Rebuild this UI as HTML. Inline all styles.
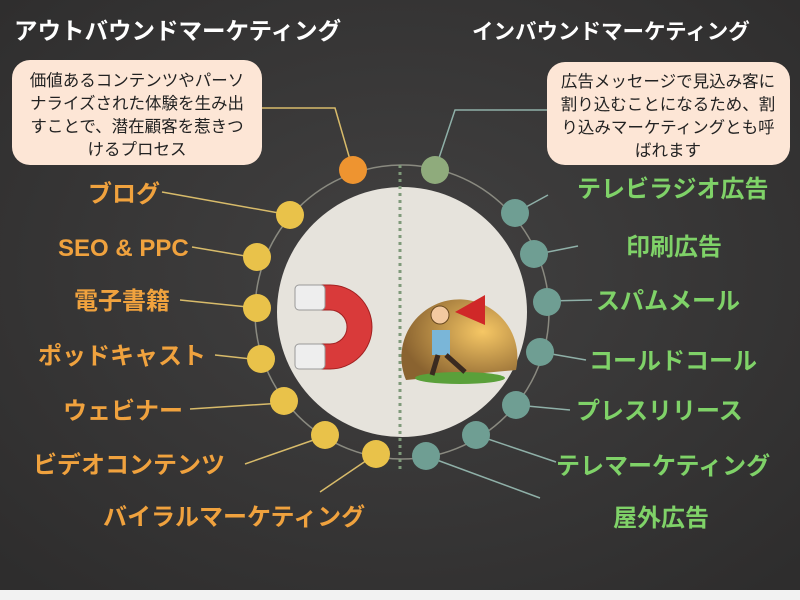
<!DOCTYPE html><html><head><meta charset="utf-8"><style>
body{margin:0;width:800px;height:600px;overflow:hidden;background:#3b3a3a;font-family:"Liberation Sans","Noto Sans CJK JP",sans-serif}
</style></head><body>
<svg width="800" height="600" xmlns="http://www.w3.org/2000/svg" style="position:absolute;left:0;top:0">
<defs><radialGradient id="bg" cx="50%" cy="45%" r="70%"><stop offset="0" stop-color="#424141"/><stop offset="1" stop-color="#2e2d2d"/></radialGradient>
<radialGradient id="sun" cx="70%" cy="40%" r="70%"><stop offset="0" stop-color="#f6c765"/><stop offset="1" stop-color="#8a6330"/></radialGradient></defs>
<rect width="800" height="600" fill="url(#bg)"/>
<rect y="590" width="800" height="10" fill="#f2f2f2"/>
<g font-weight="bold" fill="#fff"><text x="14" y="39" font-size="23.5">アウトバウンドマーケティング</text><text x="472" y="39" font-size="21.5">インバウンドマーケティング</text></g>
<circle cx="402" cy="312" r="147" fill="none" stroke="#8a8a80" stroke-width="1.5"/>
<circle cx="402" cy="312" r="125" fill="#e6e3dc"/>
<line x1="400" y1="165" x2="400" y2="470" stroke="#7f9a7a" stroke-width="3" stroke-dasharray="3,4"/>
<path d="M300 285 H330 A42 42 0 0 1 330 369 H300 V344 H330 A17 17 0 0 0 330 310 H300 Z" fill="#d93a3a" stroke="#a02020"/>
<rect x="295" y="285" width="30" height="25" rx="4" fill="#eee" stroke="#999"/>
<rect x="295" y="344" width="30" height="25" rx="4" fill="#eee" stroke="#999"/>
<path d="M406 380 A58 58 0 1 1 516 370 Z" fill="url(#sun)"/>
<ellipse cx="460" cy="378" rx="45" ry="6" fill="#5aa03a"/>
<circle cx="440" cy="315" r="9" fill="#f3c9a0" stroke="#6a4a20"/>
<path d="M432 330 L450 330 L450 355 L432 355 Z" fill="#7ab6d8"/>
<path d="M438 355 L432 375 M446 355 L465 372" stroke="#3a2a20" stroke-width="5"/>
<path d="M455 312 L485 295 L485 325 Z" fill="#d02828"/>
<g stroke-width="1.5">
<path d="M290 215 L162 192 M257 258 L192 247 M257 308 L180 300 M261 360 L215 355 M283 403 L190 409 M325 436 L245 464 M376 454 L320 492 M353 170 L335 108 L262 108" stroke="#d8bb6a" fill="none"/>
<path d="M435 170 L455 110 L547 110 M515 213 L548 195 M533 255 L578 246 M547 301 L592 300 M540 352 L586 360 M516 405 L570 410 M476 435 L556 462 M426 456 L540 498" stroke="#8fb0a8" fill="none"/>
</g>
<circle cx="353" cy="170" r="14" fill="#ee9430"/>
<circle cx="435" cy="170" r="14" fill="#8fab7c"/>
<g fill="#e9c24a"><circle cx="290" cy="215" r="14"/><circle cx="257" cy="257" r="14"/><circle cx="257" cy="308" r="14"/><circle cx="261" cy="359" r="14"/><circle cx="284" cy="401" r="14"/><circle cx="325" cy="435" r="14"/><circle cx="376" cy="454" r="14"/></g>
<g fill="#6f9e93"><circle cx="515" cy="213" r="14"/><circle cx="534" cy="254" r="14"/><circle cx="547" cy="302" r="14"/><circle cx="540" cy="352" r="14"/><circle cx="516" cy="405" r="14"/><circle cx="476" cy="435" r="14"/><circle cx="426" cy="456" r="14"/></g>
<rect x="12" y="60" width="250" height="105" rx="18" fill="#fde6d6"/>
<rect x="547" y="62" width="243" height="103" rx="18" fill="#fde6d6"/>
<g font-size="16.5" fill="#222" text-anchor="middle">
<text x="137" y="86">価値あるコンテンツやパーソ</text><text x="137" y="109">ナライズされた体験を生み出</text><text x="137" y="132">すことで、潜在顧客を惹きつ</text><text x="137" y="155">けるプロセス</text>
<text x="668" y="87">広告メッセージで見込み客に</text><text x="668" y="110">割り込むことになるため、割</text><text x="668" y="133">り込みマーケティングとも呼</text><text x="668" y="156">ばれます</text></g>
<g font-size="24" font-weight="bold" fill="#f0a23e">
<text x="88" y="202">ブログ</text><text x="58" y="256">SEO &amp; PPC</text><text x="74" y="309">電子書籍</text><text x="38" y="364">ポッドキャスト</text><text x="63" y="419">ウェビナー</text><text x="33" y="473">ビデオコンテンツ</text><text x="103" y="525">バイラルマーケティング</text></g>
<g font-size="24" font-weight="bold" fill="#7fd268">
<text x="577" y="197">テレビラジオ広告</text><text x="626" y="255">印刷広告</text><text x="596" y="309">スパムメール</text><text x="589" y="369">コールドコール</text><text x="576" y="419">プレスリリース</text><text x="556" y="474">テレマーケティング</text><text x="613" y="526">屋外広告</text></g>
</svg></body></html>
